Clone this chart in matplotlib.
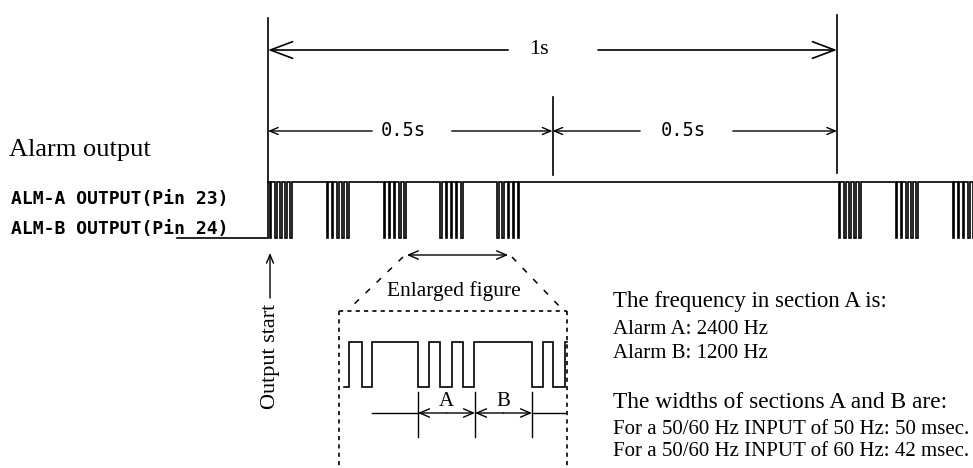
import matplotlib
matplotlib.use('Agg')
import matplotlib.pyplot as plt

# ---- timing data (seconds) ----
burst_starts = [0.0, 0.1, 0.2, 0.3, 0.4, 1.0, 1.1, 1.2]     # start of each alarm burst
dip_offsets = [0.003, 0.012, 0.021, 0.030, 0.039]            # dips inside a burst
dip_width = 0.003
period_marks = [0.0, 0.5, 1.0]                              # 0.5 s / 1 s dimension marks
enlarged_span = [0.244, 0.422]                              # part shown enlarged

# ---- enlarged figure data (milliseconds) ----
enl_lows = [(-65, -60.5), (-49, -40), (0, 9.5), (19.5, 30), (39.5, 49), (100, 110), (118, 129)]
enl_range = [-65, 130.7]
section_marks = [0, 50, 100]
section_labels = ['A', 'B']

# ---- text ----
label_title = 'Alarm output'
label_a = 'ALM-A OUTPUT(Pin 23)'
label_b = 'ALM-B OUTPUT(Pin 24)'
freq_lines = ['The frequency in section A is:', 'Alarm A: 2400 Hz', 'Alarm B: 1200 Hz']
width_lines = ['The widths of sections A and B are:',
               'For a 50/60 Hz INPUT of 50 Hz: 50 msec.',
               'For a 50/60 Hz INPUT of 60 Hz: 42 msec.']

SERIF = 'Liberation Serif'
MONO = 'DejaVu Sans Mono'

W, H = 973, 468
X0, PX_PER_S = 268, 569          # t = 0 position and scale of the time axis
E0, PX_PER_MS = 418, 57 / 50     # ms = 0 position and scale of the enlarged axis

fig = plt.figure(figsize=(W / 100, H / 100), dpi=100)


def overlay(xmin, xmax):
    a = fig.add_axes([0, 0, 1, 1])
    a.set_xlim(xmin, xmax)
    a.set_ylim(H, 0)
    a.set_axis_off()
    a.patch.set_alpha(0)
    return a


ax = overlay(0, W)                                              # layout in pixels
ax_t = overlay(-X0 / PX_PER_S, (W - X0) / PX_PER_S)             # time axis (s)
ax_e = overlay(-E0 / PX_PER_MS, (W - E0) / PX_PER_MS)           # enlarged axis (ms)


def arrow(a, x0, x1, y0, hl, hw, style='->', lw=1.0, y1=None):
    a.annotate('', xy=(x1, y0 if y1 is None else y1), xytext=(x0, y0),
               arrowprops=dict(arrowstyle=f'{style},head_length={hl},head_width={hw}',
                               lw=lw, color='black', shrinkA=0, shrinkB=0))


# ---- main signal ----
HIGH, LOW = 182, 238
xs, ys = [-91 / PX_PER_S, 0, 0], [LOW, LOW, HIGH]
for b in burst_starts:
    for o in dip_offsets:
        t1, t2 = b + o, b + o + dip_width
        xs += [t1, t1, t2, t2]
        ys += [HIGH, LOW, LOW, HIGH]
xs.append((W - X0) / PX_PER_S + 0.05)
ys.append(HIGH)
ax_t.plot(xs, ys, color='black', lw=1.2, solid_joinstyle='miter')

# ---- dimension lines ----
ax_t.plot([period_marks[0]] * 2, [18, HIGH], color='black', lw=1.2)
ax_t.plot([period_marks[1]] * 2, [97, 175], color='black', lw=1.2)
ax_t.plot([period_marks[2]] * 2, [15, 173], color='black', lw=1.2)

# 1 s
arrow(ax_t, 0.422, period_marks[0], 50, 1.6, 0.6, lw=1.2)
arrow(ax_t, 0.580, period_marks[2], 50, 1.6, 0.6, lw=1.2)
ax_t.text(0.476, 50, '1s', family=SERIF, fontsize=16, ha='center', va='center')

# 0.5 s (two halves)
arrow(ax_t, 0.183, period_marks[0], 131, 0.6, 0.25)
arrow(ax_t, 0.323, period_marks[1], 131, 0.6, 0.25)
ax_t.text(0.237, 131, '0.5s', family=MONO, fontsize=13.5, ha='center', va='center')
arrow(ax_t, 0.654, period_marks[1], 131, 0.6, 0.25)
arrow(ax_t, 0.817, period_marks[2], 131, 0.6, 0.25)
ax_t.text(0.729, 131, '0.5s', family=MONO, fontsize=13.5, ha='center', va='center')

# enlarged span arrow
arrow(ax_t, enlarged_span[0], enlarged_span[1], 255, 0.7, 0.3, style='<->')

# ---- left labels ----
ax.text(9, 150, label_title, family=SERIF, fontsize=19, ha='left', va='center')
ax.text(11, 199, label_a, family=MONO, fontsize=13, weight='bold', ha='left', va='center')
ax.text(11, 229, label_b, family=MONO, fontsize=13, weight='bold', ha='left', va='center')

# output start
arrow(ax, 270, 270, 298, 0.6, 0.25, y1=253)
ax.text(271, 356, 'Output start', family=SERIF, fontsize=16, rotation=90,
        ha='center', va='center')

# ---- enlarged figure frame ----
ax.plot([339, 567], [311, 311], color='black', lw=1.2, ls=(0, (2.5, 2.5)))
ax.plot([339, 339], [311, H + 5], color='black', lw=1.2, ls=(0, (2.5, 2.5)))
ax.plot([567, 567], [311, H + 5], color='black', lw=1.2, ls=(0, (2.5, 2.5)))
ax.plot([403, 348], [257, 310], color='black', lw=1.1, ls=(0, (4, 6)))
ax.plot([512, 562], [257, 309], color='black', lw=1.1, ls=(0, (4, 6)))
ax.text(454, 291, 'Enlarged figure', family=SERIF, fontsize=15.5, ha='center', va='center')

# enlarged waveform
EH, EL = 342, 387
ex, ey = [enl_range[0]], [EL if enl_lows[0][0] <= enl_range[0] else EH]
for lo, hi in enl_lows:
    if lo > enl_range[0]:
        ex += [lo, lo]
        ey += [EH, EL]
    ex += [hi, hi]
    ey += [EL, EH]
ex.append(enl_range[1])
ey.append(EH)
ax_e.plot(ex, ey, color='black', lw=1.2, solid_joinstyle='miter')

# section A / B dimensions
for m in section_marks:
    ax_e.plot([m, m], [392, 437], color='black', lw=1.0)
ax_e.plot([-40.4, section_marks[0]], [413, 413], color='black', lw=1.0)
ax_e.plot([section_marks[-1], 129], [413, 413], color='black', lw=1.0)
for i, lab in enumerate(section_labels):
    a0, a1 = section_marks[i], section_marks[i + 1]
    mid = (a0 + a1) / 2
    arrow(ax_e, mid, a0, 413, 0.7, 0.3)
    arrow(ax_e, mid, a1, 413, 0.7, 0.3)
    ax_e.text(mid, 402, lab, family=SERIF, fontsize=15, ha='center', va='center',
              bbox=dict(facecolor='white', edgecolor='none', pad=0.5))

# ---- right-hand notes ----
ax.text(613, 302, freq_lines[0], family=SERIF, fontsize=16.5, ha='left', va='center')
ax.text(613, 330, freq_lines[1], family=SERIF, fontsize=15, ha='left', va='center')
ax.text(613, 353, freq_lines[2], family=SERIF, fontsize=15, ha='left', va='center')
ax.text(613, 403, width_lines[0], family=SERIF, fontsize=16.8, ha='left', va='center')
ax.text(613, 429, width_lines[1], family=SERIF, fontsize=15, ha='left', va='center')
ax.text(613, 451, width_lines[2], family=SERIF, fontsize=15, ha='left', va='center')

fig.savefig('out.png', dpi=100)
